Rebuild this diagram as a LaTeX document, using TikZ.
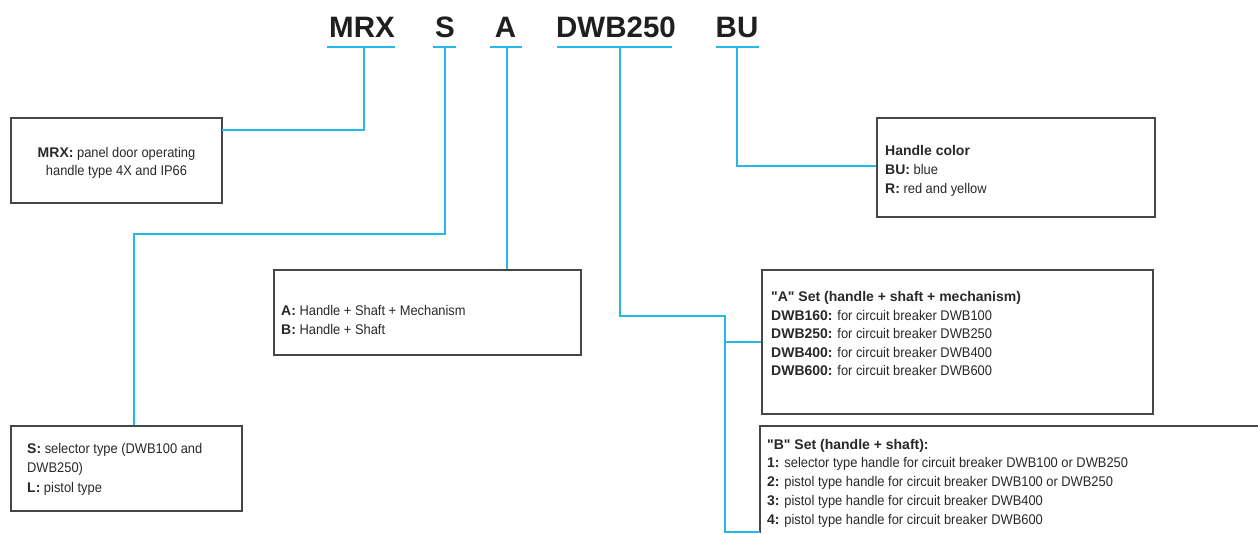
\documentclass[tikz,border=0pt]{standalone}
\usepackage{fontspec}
\setmainfont{Liberation Sans}[FakeStretch=0.92]
\newfontfamily\boldf{Liberation Sans}
\definecolor{cy}{RGB}{40,183,235}
\definecolor{boxc}{RGB}{70,70,70}
\definecolor{txtc}{RGB}{40,40,40}
\newcommand\kw[1]{{\boldf\bfseries #1}}
\newcommand\blk[3]{\parbox[t]{#1}{\fontsize{14}{#2}\selectfont\raggedright #3}}
\begin{document}
\begin{tikzpicture}[x=1pt,y=-1pt,
  box/.style={draw=boxc, line width=1.3pt, inner sep=0pt},
  conn/.style={draw=cy, line width=1.5pt},
  uline/.style={draw=cy, line width=2pt},
  txt/.style={anchor=base west, inner sep=0pt, text=txtc},
  ttl/.style={anchor=base, inner sep=0pt, text=black!88, font=\boldf\bfseries\fontsize{29.5}{30}\selectfont}]
\useasboundingbox (0,0) rectangle (1258,533);
% title
\node[ttl] (tmrx) at (362,37) {MRX};
\node[ttl] (ts) at (445,37) {S};
\node[ttl] (ta) at (505.5,37) {A};
\node[ttl] (tdwb) at (616,37) {DWB250};
\node[ttl] (tbu) at (737,37) {BU};
% underlines
\draw[uline] (327,47) -- (395,47);
\draw[uline] (433,47) -- (456,47);
\draw[uline] (490,47) -- (522,47);
\draw[uline] (557,47) -- (672,47);
\draw[uline] (716,47) -- (759,47);
\coordinate (u1) at (364,47);
\coordinate (u2) at (445,47);
\coordinate (u3) at (507,47);
\coordinate (u4) at (620,47);
\coordinate (u5) at (737,47);
% boxes
\node[box, minimum width=211, minimum height=85] (mrxb) at (116.5,160.5) {};
\node[box, minimum width=278, minimum height=99] (hb) at (1016,167.5) {};
\node[box, minimum width=307, minimum height=85] (abb) at (427.5,312.5) {};
\node[box, minimum width=391, minimum height=144] (aset) at (957.5,342) {};
\node[box, minimum width=231, minimum height=85] (sb) at (126.5,468.5) {};
\coordinate (bsetc) at (760,532);
\draw[draw=boxc, line width=1.3pt] (1258,426) -| (760,533);
% texts
\node[txt, anchor=base] (mrxt) at (116.5,157.7) {\parbox[t]{200pt}{\fontsize{14}{18}\selectfont\centering \kw{MRX:} panel door operating\\ handle type 4X and IP66}};
\node[txt] (hbt) at (885,155) {\blk{260pt}{19}{\kw{Handle color}\\ \kw{BU:} blue\\ \kw{R:} red and yellow}};
\node[txt] (abt) at (281,315.7) {\blk{290pt}{18.3}{\kw{A:} Handle + Shaft + Mechanism\\ \kw{B:} Handle + Shaft}};
\node[txt] (asett) at (771,301.5) {\blk{380pt}{18.5}{\kw{"A" Set (handle + shaft + mechanism)}\\ \kw{DWB160:} for circuit breaker DWB100\\ \kw{DWB250:} for circuit breaker DWB250\\ \kw{DWB400:} for circuit breaker DWB400\\ \kw{DWB600:} for circuit breaker DWB600}};
\node[txt] (bsett) at (767,449) {\blk{480pt}{18.75}{\kw{"B" Set (handle + shaft):}\\ \kw{1:} selector type handle for circuit breaker DWB100 or DWB250\\ \kw{2:} pistol type handle for circuit breaker DWB100 or DWB250\\ \kw{3:} pistol type handle for circuit breaker DWB400\\ \kw{4:} pistol type handle for circuit breaker DWB600}};
\node[txt] (sbt) at (27,453) {\blk{210pt}{19.5}{\kw{S:} selector type (DWB100 and\\ DWB250)\\ \kw{L:} pistol type}};
% connectors
\coordinate (c1) at (222,130);
\draw[conn] (u1) |- (c1);
\coordinate (c2) at (134,234);
\draw[conn] (u2) |- (c2) -- (c2 |- sb.north);
\draw[conn] (u3) -- (u3 |- abb.north);
\coordinate (c4) at (725,316);
\draw[conn] (u4) |- (c4) |- (bsetc);
\draw[conn] (c4 |- aset.west) -- (aset.west);
\coordinate (c5) at (hb.west |- 0,166);
\draw[conn] (u5) |- (c5);
\end{tikzpicture}
\end{document}
